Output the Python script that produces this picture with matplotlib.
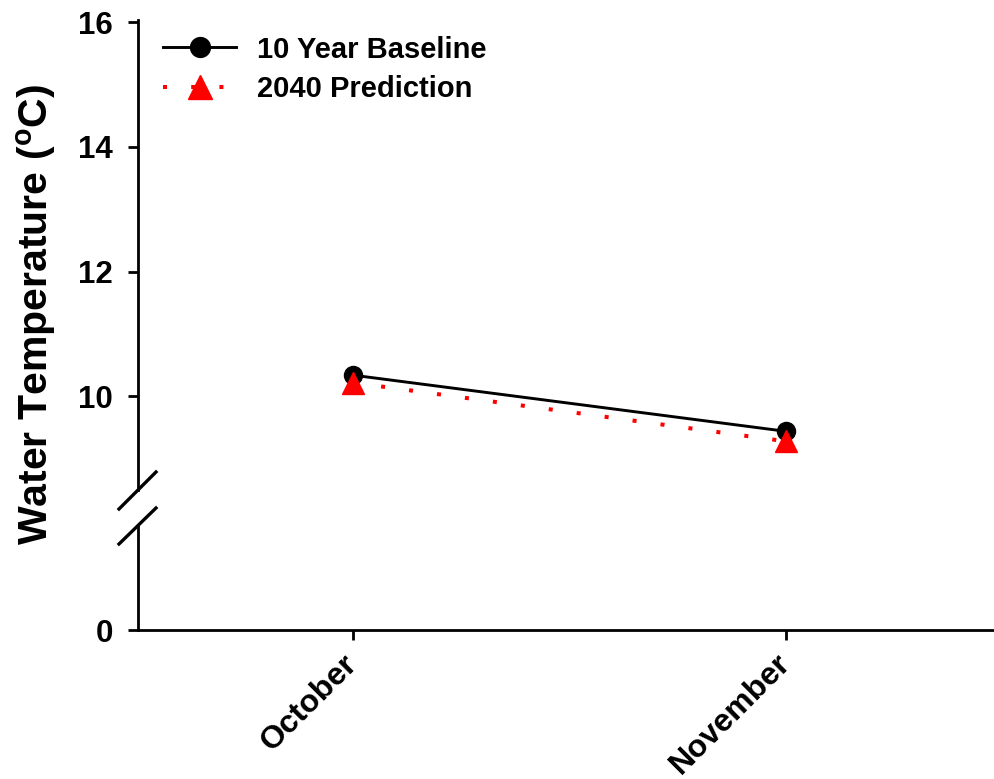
import matplotlib
matplotlib.use("Agg")
import matplotlib.pyplot as plt
from matplotlib.lines import Line2D

months = ["October", "November"]
baseline = [10.34, 9.44]
prediction = [10.22, 9.28]
upper_ticks = [10, 12, 14, 16]

plt.rcParams['font.family'] = ['Liberation Sans', 'DejaVu Sans']
plt.rcParams['font.weight'] = 'bold'
plt.rcParams['mathtext.fontset'] = 'custom'
plt.rcParams['mathtext.rm'] = 'Liberation Sans:bold'
plt.rcParams['mathtext.bf'] = 'Liberation Sans:bold'

W, H = 994, 779
fig = plt.figure(figsize=(W / 100, H / 100), dpi=100)

def fx(px):
    return px / W

def fy(py):
    return (H - py) / H

left = fx(138)
right = fx(993)
ax_up = fig.add_axes([left, fy(490), right - left, fy(22) - fy(490)])
ax_lo = fig.add_axes([left, fy(630), right - left, fy(525) - fy(630)])

x = list(range(1, len(months) + 1))
lw_sp = 2.0
for ax in (ax_up, ax_lo):
    ax.plot(x, baseline, color='black', lw=2.1, marker='o', ms=13,
            label='10 Year Baseline', zorder=3)
    ax.plot(x, prediction, color='red', lw=2.9, linestyle=(0, (1, 6.0)),
            dash_capstyle='butt', marker='^', ms=16,
            label='2040 Prediction', zorder=4)
    ax.set_xlim(0.503, 2.478)
    for s in ('top', 'right'):
        ax.spines[s].set_visible(False)
    ax.spines['left'].set_linewidth(lw_sp)
    ax.spines['bottom'].set_linewidth(lw_sp)
    ax.tick_params(width=lw_sp, length=7, labelsize=22.5, pad=11)
    ax.set_facecolor('none')

ax_up.set_ylim(8.5, 16)
ax_up.set_yticks(upper_ticks)
ax_up.spines['bottom'].set_visible(False)
ax_up.tick_params(axis='x', bottom=False, labelbottom=False)
ax_up.spines['left'].set_bounds(8.5, 16.03)

ax_lo.set_ylim(0, 1)
ax_lo.set_yticks([0])
ax_lo.set_xticks(x)
ax_lo.set_xticklabels(months, rotation=45, ha='right', va='center',
                      rotation_mode='anchor', fontsize=23, fontweight='bold')
ax_lo.tick_params(axis='x', pad=14)

for lab in ax_up.get_yticklabels() + ax_lo.get_yticklabels():
    lab.set_fontweight('bold')

leg = ax_up.legend(loc='upper left',
                   bbox_to_anchor=(fx(154) - left, (fy(24) - fy(490)) / (fy(22) - fy(490))),
                   bbox_transform=ax_up.transAxes,
                   frameon=False, handlelength=2.5, markerscale=1.1,
                   handletextpad=0.7, labelspacing=0.4, borderaxespad=0.0,
                   prop={'weight': 'bold', 'size': 21})

# axis break marks
for (x0, y0, x1, y1) in [(119, 509, 156, 472), (119, 544, 156, 508)]:
    fig.add_artist(Line2D([fx(x0), fx(x1)], [fy(y0), fy(y1)],
                          transform=fig.transFigure, color='black', lw=lw_sp + 0.4))

fig.text(fx(36), fy(315), r'Water Temperature ($^{\mathbf{o}}$C)',
         rotation=90, ha='center', va='center', fontsize=29.5, fontweight='bold')

fig.savefig('out.png', dpi=100)
